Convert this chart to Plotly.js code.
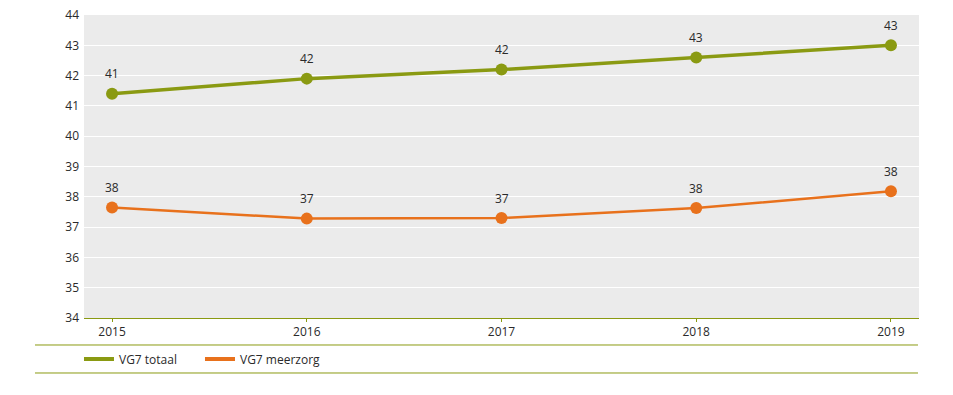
<!DOCTYPE html>
<html>
<head>
<meta charset="utf-8">
<script src="https://cdn.plot.ly/plotly-3.0.1.min.js"></script>
<style>
html,body{margin:0;padding:0;background:#fff;}
#chart{width:953px;height:395px;}
</style>
</head>
<body>
<div id="chart"></div>
<script>
var years = ['2015', '2016', '2017', '2018', '2019'];
var totaal = [41.4, 41.9, 42.2, 42.6, 43.0];
var meerzorg = [37.65, 37.28, 37.3, 37.63, 38.18];
var totaalLabels = ['41', '42', '42', '43', '43'];
var meerzorgLabels = ['38', '37', '37', '38', '38'];
var seriesNames = ['VG7 totaal', 'VG7 meerzorg'];

var green = '#8a9a12';
var orange = '#e8711c';
var font = {family: 'Open Sans, sans-serif', size: 12, color: '#2a2a2a'};

var traces = [
  {x: years, y: totaal, mode: 'lines+markers',
   line: {color: green, width: 3.5}, marker: {color: green, size: 12},
   showlegend: false, hoverinfo: 'skip', cliponaxis: false},
  {x: years, y: meerzorg, mode: 'lines+markers',
   line: {color: orange, width: 2.5}, marker: {color: orange, size: 12},
   showlegend: false, hoverinfo: 'skip', cliponaxis: false},
  {x: [null], y: [null], name: seriesNames[0], mode: 'lines', line: {color: green, width: 4}},
  {x: [null], y: [null], name: seriesNames[1], mode: 'lines', line: {color: orange, width: 4}}
];

var annotations = [];
function addLabels(ys, labels) {
  for (var i = 0; i < years.length; i++) {
    annotations.push({x: i, y: ys[i], text: labels[i], showarrow: false,
      xref: 'x', yref: 'y', yshift: 20, font: font});
  }
}
addLabels(totaal, totaalLabels);
addLabels(meerzorg, meerzorgLabels);

var layout = {
  width: 953, height: 395,
  margin: {l: 84, r: 34, t: 15, b: 77},
  paper_bgcolor: '#ffffff',
  plot_bgcolor: '#ebebeb',
  font: font,
  xaxis: {
    type: 'category', range: [-0.144, 4.144],
    showgrid: false, zeroline: false,
    showline: true, linecolor: green, linewidth: 1,
    ticks: 'outside', ticklen: 3, tickcolor: green, tickwidth: 1,
    tickfont: font, fixedrange: true
  },
  yaxis: {
    range: [34, 44], dtick: 1, tick0: 34,
    showgrid: true, gridcolor: '#ffffff', gridwidth: 1,
    zeroline: false, showline: false, ticks: '',
    ticklabelstandoff: 4,
    tickfont: font, fixedrange: true
  },
  legend: {
    orientation: 'h', x: -0.006, xanchor: 'left', y: -0.135, yanchor: 'middle',
    font: font, bgcolor: 'rgba(0,0,0,0)', traceorder: 'normal', itemwidth: 30,
    entrywidth: 76, entrywidthmode: 'pixels'
  },
  annotations: annotations,
  shapes: [
    {type: 'line', xref: 'paper', yref: 'paper', x0: -0.0587, x1: 0.9988, y0: -0.0891, y1: -0.0891,
     line: {color: green, width: 1}},
    {type: 'line', xref: 'paper', yref: 'paper', x0: -0.0587, x1: 0.9988, y0: -0.1815, y1: -0.1815,
     line: {color: green, width: 1}}
  ],
  showlegend: true
};

Plotly.newPlot('chart', traces, layout, {displayModeBar: false, staticPlot: true});
</script>
</body>
</html>
